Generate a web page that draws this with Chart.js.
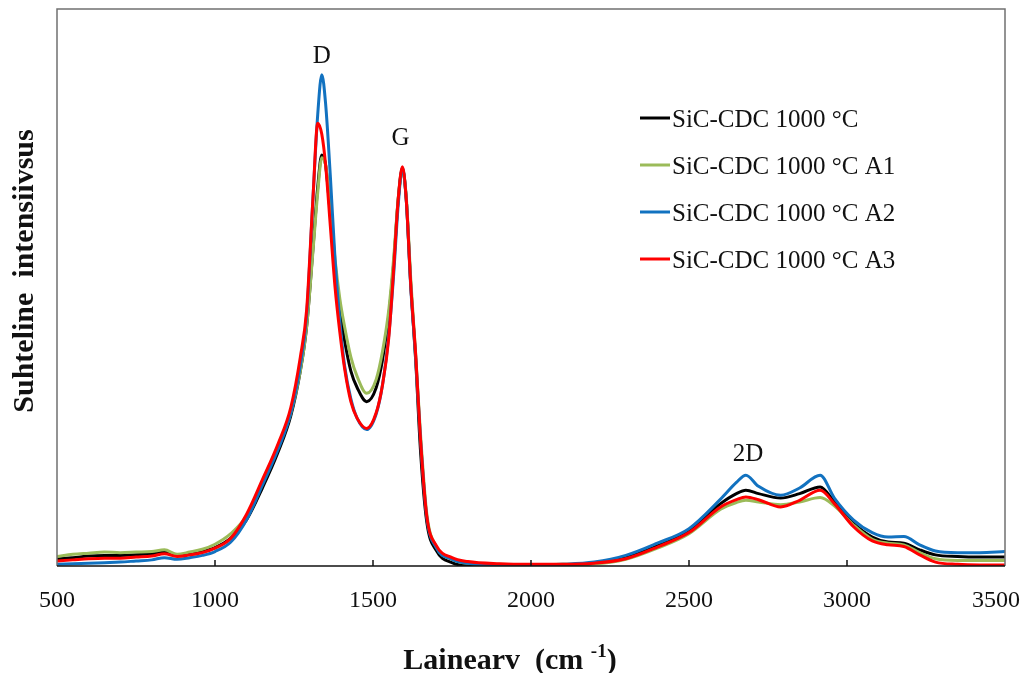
<!DOCTYPE html>
<html>
<head>
<meta charset="utf-8">
<title>Raman spectra SiC-CDC 1000 °C</title>
<script src="https://cdn.jsdelivr.net/npm/chart.js@4.4.0/dist/chart.umd.min.js"></script>
<style>
  html, body { margin: 0; padding: 0; background: #fff; }
</style>
</head>
<body>
<canvas id="ramanChart" width="1034" height="673"></canvas>
<script>
// Wavenumber (cm-1) sampled along the spectra
const wavenumber = [500, 550, 600, 650, 700, 750, 800, 840, 880, 920,
  960, 1000, 1050, 1100, 1150, 1200, 1240, 1270, 1290, 1310,
  1325, 1338, 1350, 1365, 1380, 1395, 1410, 1430, 1450, 1480,
  1510, 1530, 1550, 1565, 1580, 1593, 1605, 1620, 1635, 1650,
  1670, 1700, 1750, 1800, 1900, 2000, 2100, 2200, 2300, 2400,
  2500, 2600, 2650, 2680, 2720, 2790, 2850, 2915, 2960, 3020,
  3080, 3130, 3180, 3230, 3280, 3350, 3420, 3500];

// Relative intensity
const sic1000 = [1.3, 1.5, 1.8, 1.9, 1.9, 2.0, 2.2, 2.5, 2.0, 2.2,
  2.6, 3.3, 5.0, 8.3, 14.0, 20.5, 27.0, 35.0, 43.0, 57.0,
  68.0, 73.8, 72.0, 63.0, 53.0, 46.0, 40.5, 35.0, 32.0, 29.5,
  32.0, 37.0, 45.0, 54.0, 66.0, 71.3, 66.0, 50.0, 37.0, 21.0,
  8.0, 2.8, 0.6, 0.1, 0.1, 0.1, 0.2, 0.5, 1.5, 3.6,
  6.3, 11.2, 13.0, 13.6, 13.0, 12.2, 13.0, 14.2, 11.5, 7.7,
  5.2, 4.3, 4.1, 2.9, 2.0, 1.7, 1.6, 1.6];

const sic1000A1 = [1.7, 2.1, 2.3, 2.5, 2.4, 2.5, 2.6, 2.9, 2.1, 2.5,
  3.0, 3.9, 5.8, 9.0, 15.0, 21.5, 27.5, 35.0, 43.0, 56.5,
  67.0, 73.3, 72.0, 64.5, 55.0, 48.0, 43.0, 37.5, 34.0, 31.0,
  33.5, 38.5, 46.0, 55.0, 66.0, 71.0, 66.5, 51.0, 38.0, 24.0,
  9.5, 3.5, 1.2, 0.5, 0.3, 0.2, 0.3, 0.4, 1.2, 3.2,
  5.8, 10.2, 11.4, 11.8, 11.5, 11.0, 11.5, 12.3, 10.8, 7.4,
  4.8, 4.1, 3.8, 2.4, 1.3, 1.0, 1.0, 1.0];

const sic1000A2 = [0.3, 0.4, 0.5, 0.6, 0.7, 0.9, 1.1, 1.5, 1.2, 1.5,
  1.9, 2.6, 4.3, 8.3, 14.5, 21.0, 27.5, 36.0, 45.0, 66.0,
  81.0, 88.2, 83.0, 70.0, 55.0, 44.0, 36.0, 30.0, 26.5, 24.5,
  27.3, 32.5, 41.5, 52.0, 65.0, 71.5, 66.0, 49.5, 37.5, 23.0,
  8.8, 3.3, 1.2, 0.5, 0.2, 0.2, 0.3, 0.7, 1.9, 4.1,
  6.7, 12.0, 15.0, 16.3, 14.3, 12.7, 14.0, 16.3, 12.2, 8.3,
  6.0, 5.2, 5.3, 3.8, 2.7, 2.4, 2.4, 2.6];

const sic1000A3 = [0.9, 1.1, 1.3, 1.4, 1.4, 1.6, 1.8, 2.2, 1.7, 2.0,
  2.4, 3.2, 5.0, 9.3, 15.5, 22.0, 28.5, 37.5, 46.0, 66.0,
  79.5, 77.5, 72.0, 61.0, 50.0, 42.0, 35.5, 29.5, 26.5, 24.7,
  27.5, 32.5, 41.0, 53.0, 66.0, 71.7, 66.0, 50.0, 38.0, 23.0,
  9.0, 3.7, 1.5, 0.8, 0.4, 0.3, 0.3, 0.5, 1.3, 3.4,
  6.0, 10.6, 11.9, 12.4, 11.9, 10.6, 11.8, 13.6, 11.2, 7.1,
  4.5, 3.8, 3.5, 2.0, 0.7, 0.3, 0.2, 0.2];

const seriesNames = ["SiC-CDC 1000 °C", "SiC-CDC 1000 °C A1", "SiC-CDC 1000 °C A2", "SiC-CDC 1000 °C A3"];
const seriesColors = ["#000000", "#9bbb59", "#1272c0", "#ff0000"];

const xTicks = [500, 1000, 1500, 2000, 2500, 3000, 3500];

// Band labels and where they sit (wavenumber, intensity of text baseline)
const bandNames = ["D", "G", "2D"];
const bandX = [1338, 1587, 2687];
const bandY = [90.3, 75.6, 18.9];

const SERIF = '"Liberation Serif", "Times New Roman", serif';

function toPoints(ys) {
  return wavenumber.map((x, i) => ({ x: x, y: ys[i] }));
}

// Frame, inward ticks, tick labels, axis titles, legend and band labels
const decorPlugin = {
  id: "decor",
  afterDraw(chart) {
    const ctx = chart.ctx;
    const a = chart.chartArea;
    const xs = chart.scales.x;
    const ys = chart.scales.y;
    ctx.save();

    // box around the plot
    ctx.lineWidth = 1.5;
    ctx.strokeStyle = "#707070";
    ctx.beginPath();
    ctx.moveTo(a.left, a.bottom);
    ctx.lineTo(a.left, a.top);
    ctx.lineTo(a.right, a.top);
    ctx.lineTo(a.right, a.bottom);
    ctx.stroke();
    ctx.strokeStyle = "#111";
    ctx.beginPath();
    ctx.moveTo(a.left, a.bottom);
    ctx.lineTo(a.right, a.bottom);
    ctx.stroke();

    // ticks (pointing in) and labels
    ctx.font = "24px " + SERIF;
    ctx.fillStyle = "#111";
    ctx.textBaseline = "alphabetic";
    ctx.textAlign = "left";
    xTicks.forEach((v) => {
      const px = xs.getPixelForValue(v);
      if (v > xs.min && v < xs.max) {
        ctx.beginPath();
        ctx.moveTo(px, a.bottom);
        ctx.lineTo(px, a.bottom - 6);
        ctx.stroke();
      }
      const label = String(v);
      const w = ctx.measureText(label).width;
      let lx = px - w / 2;
      if (lx + w > a.right + 15) lx = a.right + 15 - w;
      ctx.fillText(label, lx, a.bottom + 41);
    });

    // y title
    ctx.save();
    ctx.translate(33, 271);
    ctx.rotate(-Math.PI / 2);
    ctx.font = "bold 30px " + SERIF;
    ctx.textAlign = "center";
    ctx.fillText("Suhteline  intensiivsus", 0, 0);
    ctx.restore();

    // x title with superscript
    const mainFont = "bold 30px " + SERIF;
    const supFont = "bold 19px " + SERIF;
    const p1 = "Lainearv  (cm ";
    const p2 = "-1";
    const p3 = ")";
    ctx.font = mainFont;
    const w1 = ctx.measureText(p1).width;
    const w3 = ctx.measureText(p3).width;
    ctx.font = supFont;
    const w2 = ctx.measureText(p2).width;
    let tx = 510 - (w1 + w2 + w3) / 2;
    const base = 669;
    ctx.font = mainFont;
    ctx.fillText(p1, tx, base);
    tx += w1;
    ctx.font = supFont;
    ctx.fillText(p2, tx, base - 12);
    tx += w2;
    ctx.font = mainFont;
    ctx.fillText(p3, tx, base);

    // legend
    ctx.font = "25px " + SERIF;
    chart.data.datasets.forEach((ds, i) => {
      const cy = 118 + i * 47;
      ctx.strokeStyle = ds.borderColor;
      ctx.lineWidth = 3;
      ctx.beginPath();
      ctx.moveTo(640, cy);
      ctx.lineTo(670, cy);
      ctx.stroke();
      ctx.fillStyle = "#111";
      ctx.fillText(ds.label, 672, cy + 9);
    });

    // band labels
    ctx.font = "25px " + SERIF;
    ctx.textAlign = "center";
    bandNames.forEach((name, i) => {
      ctx.fillText(name, xs.getPixelForValue(bandX[i]), ys.getPixelForValue(bandY[i]));
    });

    ctx.restore();
  },
};

const allSeries = [sic1000, sic1000A1, sic1000A2, sic1000A3];

new Chart(document.getElementById("ramanChart"), {
  type: "line",
  data: {
    datasets: allSeries.map((ys, i) => ({
      label: seriesNames[i],
      data: toPoints(ys),
      borderColor: seriesColors[i],
      backgroundColor: seriesColors[i],
      borderWidth: 3,
      pointRadius: 0,
      fill: false,
      cubicInterpolationMode: "monotone",
      order: allSeries.length - i,
    })),
  },
  options: {
    responsive: false,
    animation: false,
    events: [],
    layout: { padding: { left: 57, top: 9, right: 29, bottom: 0 } },
    plugins: {
      legend: { display: false },
      tooltip: { enabled: false },
    },
    scales: {
      x: {
        type: "linear",
        min: 500,
        max: 3500,
        afterBuildTicks: (s) => {
          s.ticks = xTicks.map((v) => ({ value: v }));
        },
        ticks: { display: false },
        grid: { display: false },
        border: { display: false },
        afterFit: (s) => {
          s.height = 107;
        },
      },
      y: {
        display: false,
        min: 0,
        max: 100,
      },
    },
  },
  plugins: [decorPlugin],
});
</script>
</body>
</html>
